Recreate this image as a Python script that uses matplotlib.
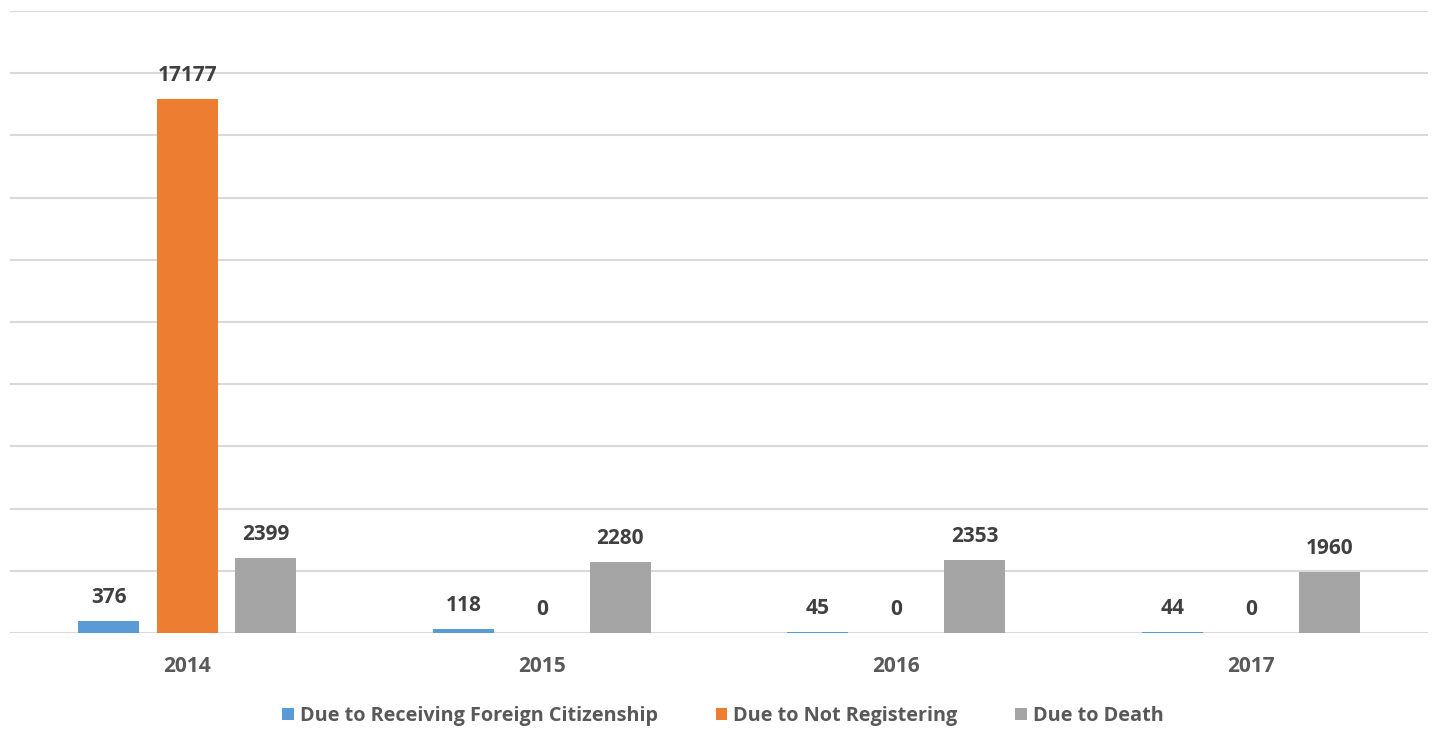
import matplotlib
matplotlib.use("Agg")
import matplotlib.pyplot as plt
import numpy as np

years = ["2014", "2015", "2016", "2017"]
series_names = ["Due to Receiving Foreign Citizenship", "Due to Not Registering", "Due to Death"]
foreign = [376, 118, 45, 44]
not_registering = [17177, 0, 0, 0]
death = [2399, 2280, 2353, 1960]
colors = ["#5b9bd5", "#ed7d31", "#a5a5a5"]

plt.rcParams['font.family'] = ['Open Sans', 'DejaVu Sans']

fig = plt.figure(figsize=(14.38, 7.31), dpi=100)
ax = fig.add_axes([10/1438, 1-633/731, 1418/1438, (633-11)/731])

x = np.arange(len(years))
w = 0.172
step = 0.221
for i, (vals, name, c) in enumerate(zip([foreign, not_registering, death], series_names, colors)):
    pos = x + (i - 1) * step
    bars = ax.bar(pos, vals, width=w, color=c, label=name, zorder=3)
    for p, v in zip(pos, vals):
        ax.text(p, v + 420, f"{v}", ha="center", va="bottom", fontsize=15,
                fontweight="bold", color="#404040", zorder=4)

ax.set_xlim(-0.5, 3.5)
ax.set_ylim(0, 20000)
ax.set_yticks(np.arange(0, 20001, 2000))
ax.yaxis.grid(True, color="#d9d9d9", linewidth=1.5, zorder=0)
ax.tick_params(axis="y", left=False, labelleft=False)
ax.tick_params(axis="x", bottom=False, pad=13)
ax.set_xticks(x)
ax.set_xticklabels(years, fontsize=15, fontweight="bold", color="#595959")
for s in ax.spines.values():
    s.set_visible(False)

leg = fig.legend(loc="center", bbox_to_anchor=(723/1438, 1-716/731), ncol=3, frameon=False,
                 handlelength=0.6, handleheight=0.6, handletextpad=0.3, columnspacing=2.9,
                 prop={"size": 14.3, "weight": "bold"})
for t in leg.get_texts():
    t.set_color("#595959")

fig.savefig("out.png", dpi=100)
